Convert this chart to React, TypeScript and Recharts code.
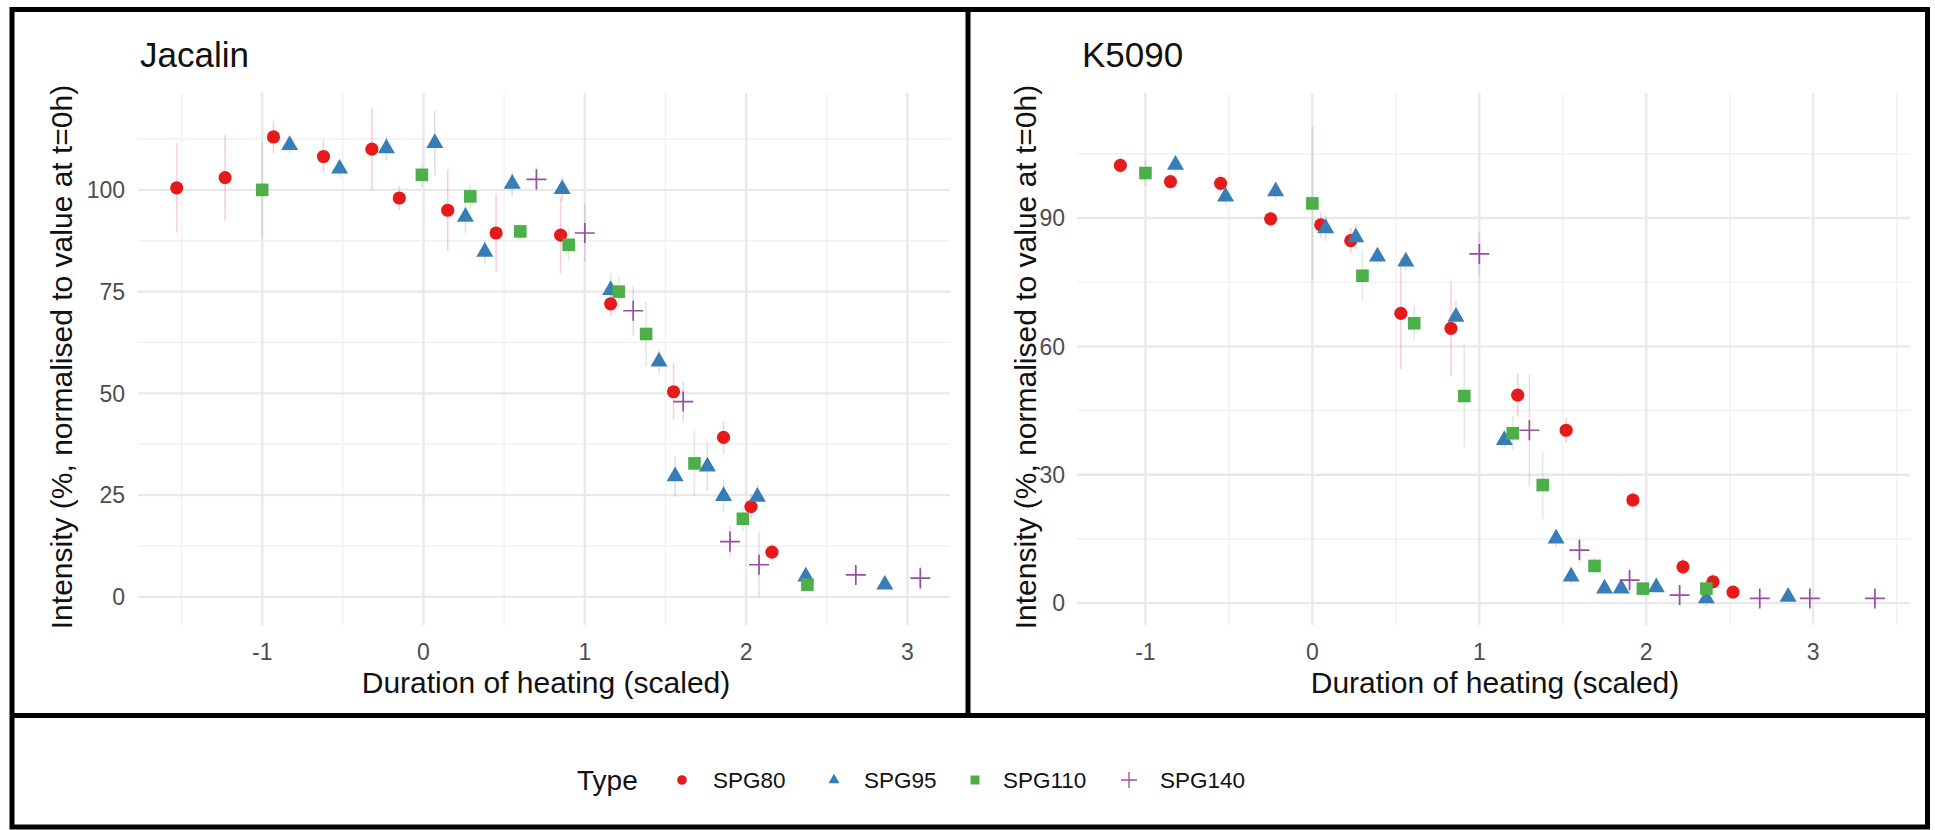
import React from "react";
import { ScatterChart, Scatter, XAxis, YAxis, ErrorBar, CartesianGrid } from "recharts";

const FONT = "'Liberation Sans', Arial, Helvetica, sans-serif";

const typeNames = ["SPG80", "SPG95", "SPG110", "SPG140"];
const typeColors = ["#E41A1C", "#377EB8", "#4DAF4A", "#984EA3"];
const errColors = ["rgba(228,26,28,0.2)", "rgba(55,126,184,0.2)", "rgba(77,175,74,0.2)", "rgba(152,78,163,0.2)"];

const panelTitles = ["Jacalin", "K5090"];
const xTitle = "Duration of heating (scaled)";
const yTitle = "Intensity (%, normalised to value at t=0h)";
const legendTitle = "Type";

// ---- Jacalin ----
const jacalinSPG80 = [
  { x: -1.53, y: 100.5, e: 11 },
  { x: -1.23, y: 103, e: 10.5 },
  { x: -0.93, y: 113, e: 4 },
  { x: -0.62, y: 108.2, e: 4 },
  { x: -0.32, y: 110, e: 10 },
  { x: -0.15, y: 98, e: 3 },
  { x: 0.15, y: 95, e: 10 },
  { x: 0.45, y: 89.4, e: 9.5 },
  { x: 0.85, y: 88.9, e: 9.5 },
  { x: 1.16, y: 72, e: 3 },
  { x: 1.55, y: 50.4, e: 7 },
  { x: 1.86, y: 39.2, e: 4 },
  { x: 2.03, y: 22.2, e: 3 },
  { x: 2.16, y: 11, e: 2 },
];
const jacalinSPG95 = [
  { x: -0.83, y: 111, e: 2 },
  { x: -0.52, y: 105.2, e: 2 },
  { x: -0.23, y: 110.2, e: 3 },
  { x: 0.07, y: 111.5, e: 8 },
  { x: 0.26, y: 93.4, e: 4 },
  { x: 0.38, y: 84.8, e: 3 },
  { x: 0.55, y: 101.5, e: 3 },
  { x: 0.86, y: 100.2, e: 3 },
  { x: 1.16, y: 75.4, e: 4 },
  { x: 1.46, y: 57.8, e: 3 },
  { x: 1.56, y: 29.6, e: 5 },
  { x: 1.76, y: 32, e: 6 },
  { x: 1.86, y: 24.8, e: 4 },
  { x: 2.07, y: 24.6, e: 3 },
  { x: 2.37, y: 5, e: 2 },
  { x: 2.86, y: 3, e: 1 },
];
const jacalinSPG110 = [
  { x: -1.0, y: 100, e: 12 },
  { x: -0.01, y: 103.7, e: 3 },
  { x: 0.29, y: 98.4, e: 3 },
  { x: 0.6, y: 89.8, e: 2 },
  { x: 0.9, y: 86.5, e: 4 },
  { x: 1.21, y: 75, e: 4 },
  { x: 1.38, y: 64.6, e: 8 },
  { x: 1.68, y: 32.8, e: 8 },
  { x: 1.98, y: 19.2, e: 3 },
  { x: 2.38, y: 3, e: 2 },
];
const jacalinSPG140 = [
  { x: 0.7, y: 102.6, e: 3 },
  { x: 1.0, y: 89.4, e: 7 },
  { x: 1.3, y: 70.3, e: 6 },
  { x: 1.61, y: 48, e: 5 },
  { x: 1.9, y: 13.6, e: 4 },
  { x: 2.08, y: 7.9, e: 8 },
  { x: 2.68, y: 5.4, e: 2 },
  { x: 3.08, y: 4.6, e: 3 },
];

// ---- K5090 ----
const k5090SPG80 = [
  { x: -1.15, y: 102.3, e: 2 },
  { x: -0.85, y: 98.5, e: 2 },
  { x: -0.55, y: 98.1, e: 2 },
  { x: -0.25, y: 89.8, e: 2 },
  { x: 0.05, y: 88.4, e: 3 },
  { x: 0.23, y: 84.7, e: 3 },
  { x: 0.53, y: 67.7, e: 13 },
  { x: 0.83, y: 64.2, e: 11 },
  { x: 1.23, y: 48.6, e: 5 },
  { x: 1.52, y: 40.4, e: 3 },
  { x: 1.92, y: 24.1, e: 2 },
  { x: 2.22, y: 8.5, e: 2 },
  { x: 2.4, y: 5, e: 2 },
  { x: 2.52, y: 2.6, e: 1 },
];
const k5090SPG95 = [
  { x: -0.82, y: 102.4, e: 2 },
  { x: -0.52, y: 95, e: 2 },
  { x: -0.22, y: 96.2, e: 2 },
  { x: 0.08, y: 87.6, e: 3 },
  { x: 0.26, y: 85.5, e: 3 },
  { x: 0.39, y: 81, e: 2 },
  { x: 0.56, y: 79.8, e: 2 },
  { x: 0.86, y: 66.9, e: 4 },
  { x: 1.15, y: 38.1, e: 2 },
  { x: 1.46, y: 15.1, e: 2 },
  { x: 1.55, y: 6.2, e: 2 },
  { x: 1.75, y: 3.4, e: 1 },
  { x: 1.85, y: 3.4, e: 1 },
  { x: 2.06, y: 3.7, e: 1 },
  { x: 2.36, y: 1.1, e: 2 },
  { x: 2.85, y: 1.5, e: 1 },
];
const k5090SPG110 = [
  { x: -1.0, y: 100.5, e: 3 },
  { x: 0.0, y: 93.4, e: 18 },
  { x: 0.3, y: 76.5, e: 6 },
  { x: 0.61, y: 65.4, e: 4 },
  { x: 0.91, y: 48.4, e: 12 },
  { x: 1.2, y: 39.7, e: 4 },
  { x: 1.38, y: 27.6, e: 8 },
  { x: 1.69, y: 8.7, e: 2 },
  { x: 1.98, y: 3.4, e: 1 },
  { x: 2.36, y: 3.4, e: 2 },
];
const k5090SPG140 = [
  { x: 1.0, y: 81.6, e: 5 },
  { x: 1.3, y: 40.4, e: 13 },
  { x: 1.6, y: 12.4, e: 3 },
  { x: 1.9, y: 5.4, e: 3 },
  { x: 2.2, y: 1.9, e: 2 },
  { x: 2.68, y: 1.1, e: 1 },
  { x: 2.98, y: 1.1, e: 1 },
  { x: 3.37, y: 1.1, e: 1 },
];

const jacalinXTicks = [-1, 0, 1, 2, 3];
const jacalinXMinor = [-1.5, -0.5, 0.5, 1.5, 2.5];
const jacalinYTicks = [0, 25, 50, 75, 100];
const jacalinYMinor = [12.5, 37.5, 62.5, 87.5, 112.5];
const k5090XTicks = [-1, 0, 1, 2, 3];
const k5090XMinor = [-0.5, 0.5, 1.5, 2.5, 3.5];
const k5090YTicks = [0, 30, 60, 90];
const k5090YMinor = [15, 45, 75, 105];

const jacalinXDomain = [-1.77, 3.264];
const jacalinYDomain = [-6.9, 123.8];
const k5090XDomain = [-1.41, 3.58];
const k5090YDomain = [-5.1, 119.2];

// ---- shapes ----
const CircleShape = (p: any) => <circle cx={p.cx} cy={p.cy} r={6.6} fill={typeColors[0]} />;
const TriangleShape = (p: any) => {
  const s = 17;
  const h = (s * Math.sqrt(3)) / 2;
  return (
    <polygon
      points={`${p.cx},${p.cy - (h * 2) / 3} ${p.cx - s / 2},${p.cy + h / 3} ${p.cx + s / 2},${p.cy + h / 3}`}
      fill={typeColors[1]}
    />
  );
};
const SquareShape = (p: any) => <rect x={p.cx - 6.3} y={p.cy - 6.3} width={12.6} height={12.6} fill={typeColors[2]} />;
const PlusShape = (p: any) => (
  <path
    d={`M${p.cx - 10},${p.cy}H${p.cx + 10}M${p.cx},${p.cy - 10}V${p.cy + 10}`}
    stroke={typeColors[3]}
    strokeWidth={1.7}
    fill="none"
  />
);
const shapes = [CircleShape, TriangleShape, SquareShape, PlusShape];

const tickStyle = { fill: "#4D4D4D", fontSize: 23, fontFamily: FONT };

type PanelProps = {
  left: number;
  width: number;
  marginRight: number;
  yAxisWidth: number;
  yTickMargin: number;
  xDomain: number[];
  yDomain: number[];
  xTicks: number[];
  xMinor: number[];
  yTicks: number[];
  yMinor: number[];
  series: { x: number; y: number; e: number }[][];
};

function Panel(props: PanelProps) {
  const { left, width, marginRight, yAxisWidth, yTickMargin, xDomain, yDomain, xTicks, xMinor, yTicks, yMinor, series } = props;
  return (
    <div style={{ position: "absolute", left, top: 0 }}>
      <ScatterChart width={width} height={713} margin={{ top: 93, right: marginRight, bottom: 28, left: 0 }}>
        <CartesianGrid horizontalValues={yMinor} verticalValues={xMinor} stroke="#F1F1F1" strokeWidth={1.4} />
        <CartesianGrid horizontalValues={yTicks} verticalValues={xTicks} stroke="#E9E9E9" strokeWidth={2.4} />
        <XAxis
          type="number"
          dataKey="x"
          domain={xDomain}
          ticks={xTicks}
          allowDataOverflow
          interval={0}
          tickLine={false}
          axisLine={false}
          tickSize={0}
          tickMargin={19}
          height={60}
          tick={tickStyle}
        />
        <YAxis
          type="number"
          dataKey="y"
          domain={yDomain}
          ticks={yTicks}
          allowDataOverflow
          interval={0}
          tickLine={false}
          axisLine={false}
          tickSize={0}
          tickMargin={yTickMargin}
          width={yAxisWidth}
          tick={tickStyle}
        />
        {series.map((s, i) => (
          <Scatter key={typeNames[i]} name={typeNames[i]} data={s} shape={shapes[i]} isAnimationActive={false}>
            <ErrorBar dataKey="e" direction="y" width={0} stroke={errColors[i]} strokeWidth={1.6} />
          </Scatter>
        ))}
      </ScatterChart>
    </div>
  );
}

function LegendSymbol({ i, x, y }: { i: number; x: number; y: number }) {
  if (i === 0) return <circle cx={x} cy={y} r={4.8} fill={typeColors[0]} />;
  if (i === 1) {
    const s = 11;
    const h = (s * Math.sqrt(3)) / 2;
    return <polygon points={`${x},${y - (h * 2) / 3} ${x - s / 2},${y + h / 3} ${x + s / 2},${y + h / 3}`} fill={typeColors[1]} />;
  }
  if (i === 2) return <rect x={x - 4.5} y={y - 4.5} width={9} height={9} fill={typeColors[2]} />;
  return <path d={`M${x - 8},${y}H${x + 8}M${x},${y - 8}V${y + 8}`} stroke={typeColors[3]} strokeWidth={1.3} fill="none" />;
}

const legendSymbolX = [682, 834, 975, 1129];
const legendLabelX = [713, 864, 1003, 1160];

export default function App() {
  return (
    <div style={{ position: "absolute", left: 0, top: 0, width: 1935, height: 830, background: "#fff", overflow: "hidden" }}>
      <Panel
        left={0}
        width={970}
        marginRight={20}
        yAxisWidth={138}
        yTickMargin={13}
        xDomain={jacalinXDomain}
        yDomain={jacalinYDomain}
        xTicks={jacalinXTicks}
        xMinor={jacalinXMinor}
        yTicks={jacalinYTicks}
        yMinor={jacalinYMinor}
        series={[jacalinSPG80, jacalinSPG95, jacalinSPG110, jacalinSPG140]}
      />
      <Panel
        left={970}
        width={965}
        marginRight={25}
        yAxisWidth={107}
        yTickMargin={12}
        xDomain={k5090XDomain}
        yDomain={k5090YDomain}
        xTicks={k5090XTicks}
        xMinor={k5090XMinor}
        yTicks={k5090YTicks}
        yMinor={k5090YMinor}
        series={[k5090SPG80, k5090SPG95, k5090SPG110, k5090SPG140]}
      />
      <svg width={1935} height={830} style={{ position: "absolute", left: 0, top: 0, pointerEvents: "none" }} fontFamily={FONT}>
        {/* frames */}
        <rect x={12} y={9.5} width={1915.5} height={817.5} fill="none" stroke="#000" strokeWidth={5} />
        <line x1={968} y1={9} x2={968} y2={715.5} stroke="#000" strokeWidth={5} />
        <line x1={12} y1={715.5} x2={1927} y2={715.5} stroke="#000" strokeWidth={5} />
        {/* panel titles */}
        <text x={140} y={67} fontSize={35} fill="#111">{panelTitles[0]}</text>
        <text x={1082} y={67} fontSize={35} fill="#111">{panelTitles[1]}</text>
        {/* axis titles */}
        <text x={546} y={693} fontSize={30} textAnchor="middle" fill="#111">{xTitle}</text>
        <text x={1495} y={693} fontSize={30} textAnchor="middle" fill="#111">{xTitle}</text>
        <text x={72} y={357} fontSize={30} textAnchor="middle" fill="#111" transform="rotate(-90 72 357)">{yTitle}</text>
        <text x={1036} y={357} fontSize={30} textAnchor="middle" fill="#111" transform="rotate(-90 1036 357)">{yTitle}</text>
        {/* legend */}
        <text x={577} y={790} fontSize={28} fill="#111">{legendTitle}</text>
        {typeNames.map((n, i) => (
          <g key={n}>
            <LegendSymbol i={i} x={legendSymbolX[i]} y={780} />
            <text x={legendLabelX[i]} y={788} fontSize={22.5} fill="#111">{n}</text>
          </g>
        ))}
      </svg>
    </div>
  );
}
